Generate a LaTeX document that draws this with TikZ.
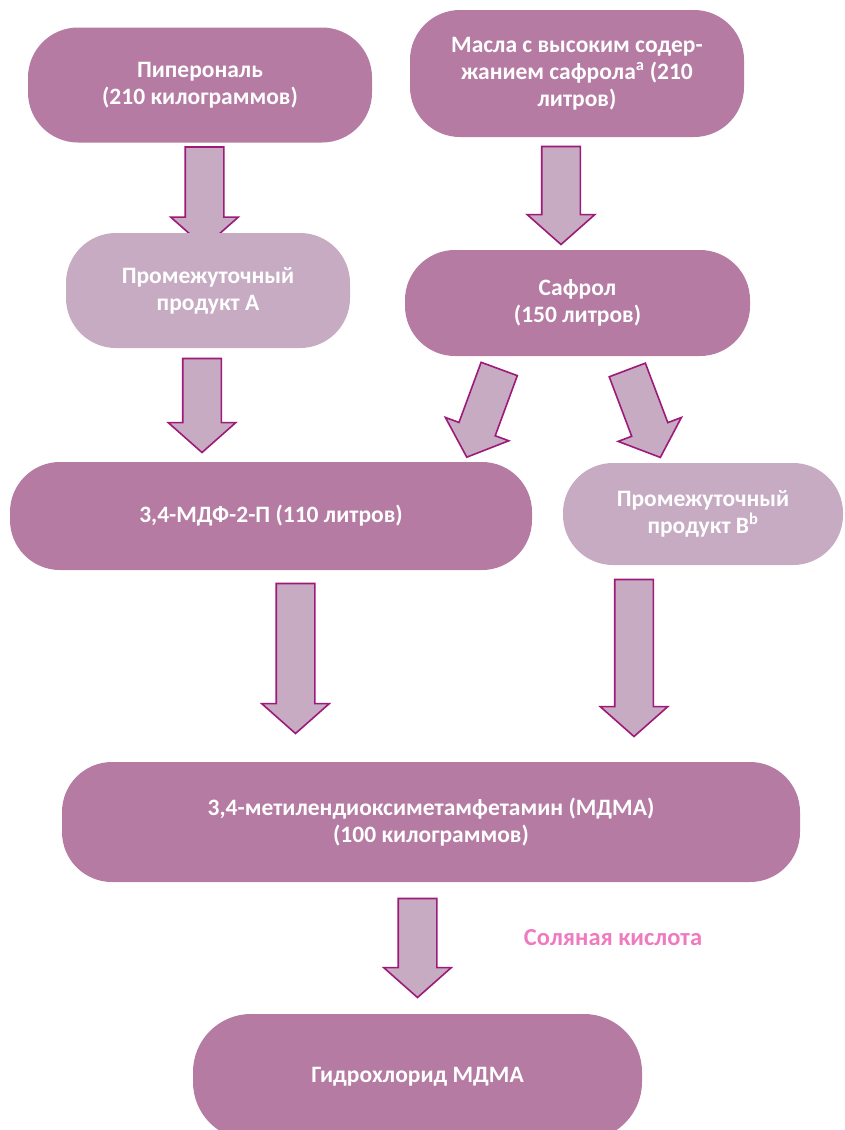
\documentclass[tikz,border=0pt]{standalone}
\usepackage{fontspec}
\setmainfont{Carlito}
\usetikzlibrary{shapes.arrows,calc,backgrounds}
\definecolor{stagedark}{HTML}{B57BA2}
\definecolor{stagelight}{HTML}{C6ABC3}
\definecolor{arrowline}{HTML}{9E1A78}
\definecolor{acidpink}{HTML}{EE7BBF}
\begin{document}
\begin{tikzpicture}[x=1pt,y=-1pt,
    stage/.style={rectangle, rounded corners=50pt, fill=stagedark, text=white,
      font=\fontsize{23.5}{27}\selectfont\bfseries, align=center, inner sep=0pt},
    lightstage/.style={stage, fill=stagelight},
    flowarrow/.style={single arrow, draw=arrowline, fill=stagelight, line width=1.6pt,
      single arrow head extend=14.5pt, single arrow tip angle=97,
      inner xsep=0pt, inner ysep=18.5pt, anchor=tail},
  ]
\useasboundingbox (0,0) rectangle (845,1130);

\node[stage, minimum width=344pt, minimum height=115pt] (piper) at (200,85)
  {Пиперональ\\(210 килограммов)};
\node[stage, minimum width=334pt, minimum height=127pt] (oils) at (577,73.5)
  {Масла с высоким содер-\\жанием сафрола\textsuperscript{a} (210\\литров)};
\node[lightstage, minimum width=284pt, minimum height=115pt] (intA) at (208,290.5)
  {Промежуточный\\продукт А};
\node[stage, minimum width=345pt, minimum height=106pt] (safrole) at (577.5,303)
  {Сафрол\\(150 литров)};
\node[stage, minimum width=522pt, minimum height=108pt] (mdp) at (271,516)
  {3,4-МДФ-2-П (110 литров)};
\node[lightstage, minimum width=280pt, minimum height=102pt] (intB) at (703,514)
  {Промежуточный\\продукт В\textsuperscript{b}};
\node[stage, minimum width=738pt, minimum height=120pt] (mdma) at (431,822)
  {3,4-метилендиоксиметамфетамин (МДМА)\\(100 килограммов)};
\node[stage, rounded corners=58pt, minimum width=449pt, minimum height=126pt] (salt) at (417.5,1077)
  {Гидрохлорид МДМА};
\node[font=\fontsize{24.5}{27}\selectfont\bfseries, text=acidpink] (acid) at (613,938)
  {Соляная кислота};

\begin{scope}[on background layer]
\node[flowarrow, rotate=-90, minimum height=100pt] (a1) at ($(piper.south)+(4.5,3.5)$) {};
\node[flowarrow, rotate=-90, minimum height=98pt] (a2) at ($(oils.south)+(-16,8.5)$) {};
\node[flowarrow, rotate=-90, minimum height=94pt] (a3) at ($(intA.south)+(-6,9.5)$) {};
\node[flowarrow, rotate=-110.2, minimum height=94pt] (a4) at ($(safrole.south)+(-78,12)$) {};
\node[flowarrow, rotate=-69.3, minimum height=93.5pt] (a5) at ($(safrole.south)+(49.5,13)$) {};
\node[flowarrow, rotate=-90, minimum height=150pt] (a6) at ($(mdp.south)+(24.5,12.5)$) {};
\node[flowarrow, rotate=-90, minimum height=157pt] (a7) at ($(intB.south)+(-69,13.5)$) {};
\node[flowarrow, rotate=-90, minimum height=99pt] (a8) at ($(mdma.south)+(-13.5,15.5)$) {};
\end{scope}
\end{tikzpicture}
\end{document}
